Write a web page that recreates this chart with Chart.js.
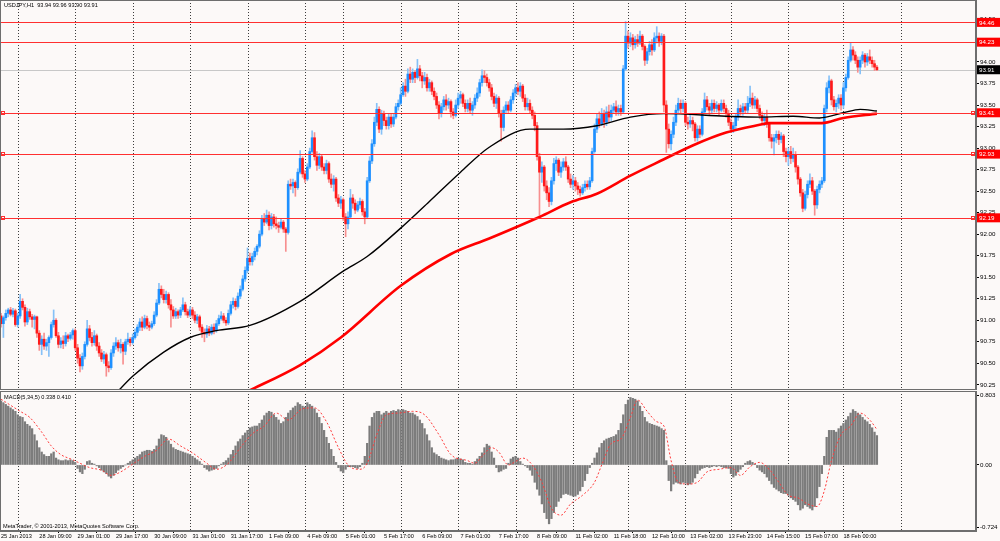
<!DOCTYPE html>
<html>
<head>
<meta charset="utf-8">
<script src="https://cdn.jsdelivr.net/npm/chart.js@4.4.0/dist/chart.umd.min.js"></script>
<style>
html, body { margin: 0; padding: 0; background: #fcf9f8; }
#wrap { position: relative; width: 1000px; height: 541px; overflow: hidden; font-family: "Liberation Sans", Arial, sans-serif; }
#main { position: absolute; left: 0; top: 0; }
#macd { position: absolute; left: 0; top: 390px; }
.note { position: absolute; font-size: 5.6px; line-height: 1; color: #000; white-space: pre; }
</style>
</head>
<body>
<div id="wrap">
  <canvas id="main" width="1000" height="390"></canvas>
  <canvas id="macd" width="1000" height="151"></canvas>
  <div class="note" style="left:4px;top:3px">USDJPY,H1  93.94 93.96 93.90 93.91</div>
  <div class="note" style="left:4px;top:395px">MACD(5,34,5) 0.338 0.410</div>
  <div class="note" style="left:3px;top:524px">MetaTrader, © 2001-2013, MetaQuotes Software Corp.</div>
</div>
<script>
// USDJPY H1 bars, 25 Jan 2013 17:00 .. 18 Feb 2013 14:00 (index = bar number)
const opens = [
  91.05,90.96,91.03,91.08,91.12,91.07,91.11,90.95,91.05,91.22,
  91.15,90.98,91.10,91.04,91.01,91.04,90.85,90.72,90.78,90.70,
  90.74,90.80,90.95,91.00,90.82,90.72,90.76,90.73,90.82,90.79,
  90.83,90.88,90.68,90.56,90.47,90.58,90.72,90.90,90.80,90.74,
  90.82,90.70,90.62,90.55,90.60,90.47,90.45,90.62,90.70,90.74,
  90.68,90.72,90.64,90.75,90.78,90.74,90.80,90.86,90.92,90.98,
  90.92,91.02,90.94,90.92,90.96,91.06,91.20,91.36,91.30,91.24,
  91.30,91.18,91.12,91.05,91.10,91.06,91.12,91.18,91.10,91.06,
  91.12,91.06,91.00,91.04,90.92,90.86,90.84,90.90,90.85,90.92,
  90.88,90.96,91.02,91.05,91.00,90.97,91.08,91.18,91.22,91.16,
  91.28,91.36,91.48,91.58,91.72,91.68,91.74,91.80,91.86,92.00,
  92.18,92.14,92.22,92.10,92.20,92.12,92.10,92.08,92.14,92.06,
  92.02,92.58,92.56,92.60,92.54,92.72,92.88,92.70,92.64,92.78,
  92.96,93.12,92.90,92.80,92.90,92.78,92.74,92.82,92.64,92.58,
  92.64,92.42,92.36,92.40,92.20,92.12,92.20,92.42,92.36,92.28,
  92.34,92.38,92.26,92.20,92.62,92.85,93.05,93.30,93.45,93.22,
  93.40,93.32,93.26,93.36,93.28,93.36,93.48,93.52,93.62,93.72,
  93.66,93.86,93.80,93.88,93.82,93.92,93.84,93.78,93.82,93.70,
  93.76,93.66,93.60,93.50,93.40,93.48,93.56,93.50,93.54,93.42,
  93.38,93.50,93.58,93.62,93.52,93.46,93.52,93.44,93.50,93.58,
  93.64,93.76,93.84,93.82,93.76,93.70,93.60,93.52,93.58,93.40,
  93.24,93.44,93.50,93.44,93.56,93.64,93.70,93.66,93.72,93.58,
  93.48,93.52,93.44,93.38,93.26,92.90,92.72,92.78,92.56,92.48,
  92.38,92.62,92.82,92.86,92.72,92.78,92.84,92.78,92.64,92.58,
  92.62,92.56,92.52,92.48,92.54,92.58,92.55,92.62,92.96,93.22,
  93.34,93.28,93.40,93.30,93.42,93.36,93.44,93.48,93.42,93.46,
  93.42,93.92,94.30,94.22,94.28,94.20,94.26,94.22,94.30,94.18,
  94.02,94.12,94.20,94.14,94.28,94.30,94.24,94.30,93.50,93.22,
  93.05,93.16,93.30,93.44,93.52,93.46,93.52,93.30,93.28,93.32,
  93.28,93.12,93.22,93.16,93.42,93.56,93.48,93.44,93.52,93.46,
  93.50,93.44,93.52,93.46,93.40,93.30,93.22,93.26,93.36,93.46,
  93.42,93.48,93.44,93.52,93.58,93.50,93.56,93.46,93.38,93.32,
  93.36,93.28,93.12,93.08,93.12,93.16,93.10,93.14,92.96,92.90,
  92.96,92.88,92.92,92.78,92.64,92.48,92.30,92.46,92.58,92.62,
  92.50,92.34,92.52,92.58,92.62,93.46,93.70,93.78,93.56,93.48,
  93.52,93.58,93.50,93.70,93.82,94.02,94.14,94.08,94.02,93.94,
  94.02,94.08,94.00,94.06,94.02,93.98,93.94
];
const highs = [
  91.08,91.05,91.12,91.14,91.15,91.14,91.13,91.08,91.30,91.25,
  91.18,91.14,91.13,91.07,91.06,91.05,90.88,90.82,90.85,90.78,
  90.82,90.98,91.12,91.02,90.86,90.80,90.82,90.86,90.84,90.86,
  90.90,90.90,90.72,90.60,90.62,90.75,91.00,90.94,90.86,90.88,
  90.84,90.74,90.66,90.64,90.62,90.52,90.66,90.74,90.80,90.77,
  90.78,90.74,90.78,90.85,90.80,90.84,90.90,90.95,91.02,91.04,
  91.06,91.05,90.98,90.99,91.10,91.24,91.43,91.40,91.36,91.34,
  91.32,91.24,91.16,91.14,91.12,91.15,91.26,91.21,91.13,91.16,
  91.15,91.10,91.07,91.06,90.95,90.90,90.94,90.93,90.95,90.96,
  91.00,91.06,91.10,91.08,91.03,91.12,91.22,91.26,91.25,91.32,
  91.40,91.52,91.62,91.84,91.78,91.78,91.84,91.88,92.04,92.22,
  92.24,92.28,92.26,92.24,92.23,92.20,92.14,92.18,92.16,92.08,
  92.62,92.64,92.64,92.62,92.76,92.97,92.90,92.74,92.82,93.00,
  93.20,93.18,92.96,92.94,92.92,92.82,92.86,92.84,92.70,92.68,
  92.66,92.46,92.44,92.42,92.24,92.26,92.52,92.46,92.40,92.38,
  92.42,92.40,92.30,92.66,92.90,93.10,93.36,93.52,93.48,93.44,
  93.43,93.36,93.40,93.40,93.40,93.52,93.56,93.70,93.76,93.80,
  93.92,93.94,93.92,93.90,94.03,93.96,93.88,93.88,93.86,93.80,
  93.78,93.70,93.64,93.54,93.52,93.60,93.62,93.58,93.56,93.46,
  93.56,93.64,93.66,93.64,93.56,93.56,93.58,93.54,93.62,93.70,
  93.80,93.91,93.90,93.86,93.80,93.74,93.64,93.62,93.60,93.44,
  93.48,93.54,93.54,93.60,93.68,93.74,93.76,93.76,93.74,93.62,
  93.58,93.56,93.48,93.42,93.30,92.94,92.84,92.80,92.62,92.54,
  92.66,92.88,92.90,92.88,92.84,92.88,92.90,92.80,92.70,92.68,
  92.66,92.60,92.56,92.58,92.62,92.62,92.66,93.00,93.28,93.40,
  93.42,93.46,93.44,93.48,93.50,93.50,93.52,93.55,93.50,93.50,
  93.96,94.47,94.36,94.34,94.32,94.30,94.32,94.36,94.32,94.20,
  94.16,94.24,94.26,94.34,94.41,94.34,94.33,94.32,93.55,93.28,
  93.20,93.36,93.50,93.58,93.56,93.56,93.54,93.36,93.38,93.36,
  93.30,93.26,93.26,93.46,93.64,93.60,93.52,93.56,93.56,93.54,
  93.52,93.56,93.56,93.50,93.44,93.34,93.30,93.40,93.56,93.50,
  93.52,93.52,93.60,93.72,93.64,93.60,93.58,93.50,93.42,93.40,
  93.44,93.30,93.16,93.16,93.20,93.20,93.18,93.16,93.00,93.00,
  93.02,93.00,92.96,92.80,92.66,92.52,92.50,92.62,92.70,92.66,
  92.52,92.56,92.62,92.66,93.50,93.76,93.84,93.80,93.60,93.56,
  93.62,93.62,93.76,93.86,94.06,94.22,94.18,94.12,94.06,94.06,
  94.12,94.10,94.10,94.14,94.06,94.02,93.96
];
const lows = [
  90.92,90.80,91.00,91.04,91.05,91.04,90.93,90.92,91.02,91.12,
  90.93,90.95,91.01,90.92,90.90,90.80,90.65,90.60,90.66,90.65,
  90.58,90.78,90.92,90.80,90.68,90.68,90.67,90.70,90.75,90.77,
  90.78,90.65,90.50,90.40,90.43,90.55,90.70,90.76,90.70,90.71,
  90.65,90.58,90.52,90.50,90.35,90.40,90.43,90.58,90.66,90.64,
  90.62,90.49,90.60,90.72,90.70,90.72,90.78,90.82,90.88,90.88,
  90.90,90.90,90.88,90.90,90.94,91.04,91.18,91.26,91.20,91.20,
  91.14,90.92,91.02,91.02,91.02,91.03,91.10,91.06,91.03,91.04,
  91.02,90.97,90.96,90.88,90.80,90.75,90.80,90.82,90.83,90.84,
  90.86,90.94,91.00,90.97,90.94,90.95,91.06,91.14,91.12,91.14,
  91.25,91.34,91.45,91.55,91.64,91.64,91.70,91.76,91.84,91.98,
  92.10,92.12,92.05,92.06,92.08,92.06,92.02,92.06,92.02,91.80,
  92.00,92.52,92.48,92.44,92.52,92.70,92.66,92.60,92.62,92.76,
  92.94,92.86,92.74,92.76,92.74,92.70,92.70,92.60,92.54,92.50,
  92.38,92.32,92.30,92.16,91.97,92.06,92.18,92.30,92.24,92.26,
  92.30,92.22,92.12,92.18,92.60,92.82,93.02,93.26,93.18,93.16,
  93.26,93.22,93.22,93.24,93.25,93.34,93.44,93.50,93.60,93.60,
  93.64,93.76,93.76,93.76,93.80,93.78,93.70,93.74,93.66,93.66,
  93.62,93.56,93.46,93.34,93.36,93.44,93.44,93.46,93.36,93.34,
  93.36,93.46,93.52,93.48,93.42,93.42,93.40,93.38,93.46,93.54,
  93.60,93.72,93.76,93.72,93.66,93.56,93.48,93.46,93.36,93.08,
  93.20,93.40,93.40,93.42,93.52,93.60,93.62,93.60,93.54,93.44,
  93.44,93.40,93.34,93.20,92.86,92.22,92.60,92.50,92.40,92.32,
  92.34,92.58,92.74,92.68,92.66,92.74,92.74,92.60,92.54,92.52,
  92.50,92.46,92.44,92.46,92.50,92.52,92.52,92.60,92.94,93.18,
  93.24,93.26,93.24,93.26,93.30,93.32,93.40,93.38,93.38,93.38,
  93.40,93.90,94.16,94.18,94.14,94.16,94.18,94.20,94.14,93.96,
  93.98,94.08,94.08,94.12,94.22,94.18,94.20,93.42,92.95,93.00,
  92.98,93.12,93.26,93.40,93.40,93.42,93.26,93.22,93.24,93.20,
  93.08,93.08,93.12,93.14,93.40,93.44,93.38,93.40,93.42,93.42,
  93.38,93.42,93.42,93.36,93.26,93.18,93.18,93.22,93.32,93.38,
  93.38,93.40,93.40,93.48,93.46,93.46,93.42,93.34,93.28,93.26,
  93.24,93.08,93.00,92.92,93.06,93.04,93.06,92.90,92.84,92.80,
  92.82,92.84,92.72,92.58,92.44,92.26,92.28,92.42,92.54,92.46,
  92.22,92.30,92.48,92.54,92.60,93.42,93.64,93.50,93.44,93.42,
  93.46,93.44,93.46,93.66,93.80,94.00,94.02,93.98,93.88,93.86,
  93.98,93.94,93.96,93.98,93.94,93.90,93.90
];
const closes = [
  90.96,91.03,91.08,91.12,91.07,91.11,90.95,91.05,91.22,91.15,
  90.98,91.10,91.04,91.01,91.04,90.85,90.72,90.78,90.70,90.74,
  90.80,90.95,91.00,90.82,90.72,90.76,90.73,90.82,90.79,90.83,
  90.88,90.68,90.56,90.47,90.58,90.72,90.90,90.80,90.74,90.82,
  90.70,90.62,90.55,90.60,90.47,90.45,90.62,90.70,90.74,90.68,
  90.72,90.64,90.75,90.78,90.74,90.80,90.86,90.92,90.98,90.92,
  91.02,90.94,90.92,90.96,91.06,91.20,91.36,91.30,91.24,91.30,
  91.18,91.12,91.05,91.10,91.06,91.12,91.18,91.10,91.06,91.12,
  91.06,91.00,91.04,90.92,90.86,90.84,90.90,90.85,90.92,90.88,
  90.96,91.02,91.05,91.00,90.97,91.08,91.18,91.22,91.16,91.28,
  91.36,91.48,91.58,91.72,91.68,91.74,91.80,91.86,92.00,92.18,
  92.14,92.22,92.10,92.20,92.12,92.10,92.08,92.14,92.06,92.02,
  92.58,92.56,92.60,92.54,92.72,92.88,92.70,92.64,92.78,92.96,
  93.12,92.90,92.80,92.90,92.78,92.74,92.82,92.64,92.58,92.64,
  92.42,92.36,92.40,92.20,92.12,92.20,92.42,92.36,92.28,92.34,
  92.38,92.26,92.20,92.62,92.85,93.05,93.30,93.45,93.22,93.40,
  93.32,93.26,93.36,93.28,93.36,93.48,93.52,93.62,93.72,93.66,
  93.86,93.80,93.88,93.82,93.92,93.84,93.78,93.82,93.70,93.76,
  93.66,93.60,93.50,93.40,93.48,93.56,93.50,93.54,93.42,93.38,
  93.50,93.58,93.62,93.52,93.46,93.52,93.44,93.50,93.58,93.64,
  93.76,93.84,93.82,93.76,93.70,93.60,93.52,93.58,93.40,93.24,
  93.44,93.50,93.44,93.56,93.64,93.70,93.66,93.72,93.58,93.48,
  93.52,93.44,93.38,93.26,92.90,92.72,92.78,92.56,92.48,92.38,
  92.62,92.82,92.86,92.72,92.78,92.84,92.78,92.64,92.58,92.62,
  92.56,92.52,92.48,92.54,92.58,92.55,92.62,92.96,93.22,93.34,
  93.28,93.40,93.30,93.42,93.36,93.44,93.48,93.42,93.46,93.42,
  93.92,94.30,94.22,94.28,94.20,94.26,94.22,94.30,94.18,94.02,
  94.12,94.20,94.14,94.28,94.30,94.24,94.30,93.50,93.22,93.05,
  93.16,93.30,93.44,93.52,93.46,93.52,93.30,93.28,93.32,93.28,
  93.12,93.22,93.16,93.42,93.56,93.48,93.44,93.52,93.46,93.50,
  93.44,93.52,93.46,93.40,93.30,93.22,93.26,93.36,93.46,93.42,
  93.48,93.44,93.52,93.58,93.50,93.56,93.46,93.38,93.32,93.36,
  93.28,93.12,93.08,93.12,93.16,93.10,93.14,92.96,92.90,92.96,
  92.88,92.92,92.78,92.64,92.48,92.30,92.46,92.58,92.62,92.50,
  92.34,92.52,92.58,92.62,93.46,93.70,93.78,93.56,93.48,93.52,
  93.58,93.50,93.70,93.82,94.02,94.14,94.08,94.02,93.94,94.02,
  94.08,94.00,94.06,94.02,93.98,93.94,93.91
];

// moving averages at a few bars
const fastMaBars = [47, 55, 68, 79, 90, 104, 125, 143, 153, 167, 179, 192, 204, 221, 235, 249, 263, 277, 303, 317, 331, 342, 352, 359, 366];
const fastMaVals = [90.12, 90.35, 90.63, 90.80, 90.88, 90.94, 91.22, 91.57, 91.74, 92.07, 92.38, 92.72, 93.01, 93.22, 93.22, 93.26, 93.36, 93.40, 93.37, 93.36, 93.37, 93.35, 93.41, 93.45, 93.43];
const slowMaBars = [102, 125, 142, 167, 188, 204, 225, 238, 249, 263, 277, 289, 303, 317, 321, 343, 352, 366];
const slowMaVals = [90.16, 90.48, 90.80, 91.40, 91.77, 91.95, 92.20, 92.37, 92.47, 92.68, 92.87, 93.03, 93.18, 93.27, 93.29, 93.29, 93.35, 93.40];

// MACD(5,34,5) histogram per bar
const macdHist = [
  0.74,0.72,0.70,0.68,0.66,0.64,0.62,0.58,0.56,0.55,
  0.50,0.47,0.45,0.42,0.35,0.28,0.20,0.15,0.12,0.10,
  0.10,0.13,0.15,0.08,0.06,0.05,0.05,0.06,0.05,0.06,
  0.05,0.03,-0.04,-0.08,-0.10,-0.05,0.04,0.05,0.02,0.01,
  -0.01,-0.03,-0.06,-0.08,-0.10,-0.13,-0.15,-0.12,-0.09,-0.06,
  -0.04,-0.02,0.00,0.02,0.04,0.06,0.08,0.10,0.12,0.15,
  0.16,0.17,0.17,0.16,0.18,0.22,0.30,0.35,0.34,0.32,
  0.28,0.24,0.20,0.18,0.17,0.16,0.15,0.14,0.13,0.12,
  0.10,0.08,0.06,0.04,0.01,-0.03,-0.05,-0.07,-0.06,-0.05,
  -0.04,-0.01,0.01,0.03,0.05,0.08,0.12,0.17,0.22,0.27,
  0.30,0.34,0.37,0.40,0.43,0.44,0.45,0.45,0.48,0.52,
  0.57,0.60,0.62,0.61,0.58,0.55,0.52,0.48,0.50,0.55,
  0.60,0.63,0.66,0.68,0.72,0.70,0.68,0.67,0.72,0.70,
  0.68,0.65,0.60,0.55,0.48,0.40,0.32,0.25,0.18,0.10,
  0.03,-0.03,-0.07,-0.09,-0.05,-0.02,-0.02,-0.02,-0.03,-0.04,
  -0.02,0.02,0.10,0.25,0.45,0.55,0.60,0.62,0.62,0.58,
  0.60,0.62,0.60,0.62,0.63,0.62,0.64,0.63,0.64,0.63,
  0.62,0.60,0.60,0.58,0.56,0.52,0.48,0.42,0.35,0.28,
  0.20,0.14,0.12,0.10,0.08,0.07,0.06,0.05,0.06,0.06,
  0.07,0.08,0.07,0.06,0.03,0.02,0.02,0.01,0.04,0.07,
  0.10,0.14,0.20,0.24,0.22,0.15,0.08,-0.03,-0.08,-0.07,
  -0.05,-0.04,0.02,0.07,0.09,0.10,0.08,0.04,0.01,-0.01,
  -0.03,-0.06,-0.12,-0.20,-0.28,-0.35,-0.45,-0.55,-0.62,-0.68,
  -0.62,-0.55,-0.48,-0.42,-0.38,-0.34,-0.33,-0.34,-0.35,-0.36,
  -0.36,-0.34,-0.30,-0.25,-0.18,-0.10,-0.03,0.02,0.08,0.14,
  0.20,0.25,0.28,0.30,0.31,0.32,0.33,0.35,0.40,0.48,
  0.58,0.70,0.75,0.78,0.77,0.76,0.74,0.68,0.62,0.55,
  0.50,0.48,0.47,0.46,0.45,0.44,0.42,0.40,0.05,-0.18,
  -0.30,-0.22,-0.20,-0.21,-0.22,-0.20,-0.21,-0.23,-0.22,-0.20,
  -0.15,-0.10,-0.06,-0.04,-0.03,-0.02,-0.03,-0.02,-0.01,-0.02,
  -0.01,-0.02,-0.03,-0.03,-0.04,-0.10,-0.14,-0.12,-0.08,-0.05,
  -0.02,0.02,0.04,0.05,0.03,0.01,-0.03,-0.06,-0.08,-0.10,
  -0.14,-0.18,-0.22,-0.26,-0.28,-0.30,-0.32,-0.33,-0.33,-0.35,
  -0.38,-0.40,-0.42,-0.46,-0.52,-0.50,-0.46,-0.48,-0.50,-0.52,
  -0.48,-0.38,-0.25,-0.10,0.10,0.32,0.40,0.40,0.40,0.38,
  0.42,0.45,0.48,0.52,0.56,0.60,0.64,0.62,0.60,0.58,
  0.55,0.52,0.50,0.47,0.43,0.38,0.34
];
// signal line, read at a few bars
const signalBars = [0, 8, 12, 17, 21, 25, 30, 33, 37, 42, 46, 50, 55, 60, 65, 70, 75, 80, 86, 90, 95, 100, 105, 110, 115, 120, 126, 131, 136, 141, 145, 150, 153, 157, 161, 166, 172, 177, 183, 188, 195, 198, 201, 205, 208, 212, 215, 218, 222, 226, 230, 234, 238, 243, 248, 251, 255, 259, 263, 266, 270, 274, 277, 280, 283, 287, 291, 295, 300, 305, 309, 313, 317, 321, 325, 329, 333, 337, 341, 344, 347, 351, 355, 359, 363, 366];
const signalVals = [0.76, 0.62, 0.55, 0.38, 0.22, 0.12, 0.06, 0.02, -0.03, -0.06, -0.12, -0.08, 0.01, 0.10, 0.17, 0.30, 0.22, 0.14, 0.02, -0.05, 0.02, 0.20, 0.36, 0.45, 0.60, 0.52, 0.65, 0.66, 0.50, 0.20, 0.00, -0.05, 0.02, 0.35, 0.58, 0.60, 0.62, 0.58, 0.35, 0.12, 0.05, 0.02, 0.10, 0.20, 0.15, 0.00, 0.04, 0.08, 0.00, -0.20, -0.50, -0.58, -0.45, -0.35, -0.20, 0.00, 0.25, 0.30, 0.55, 0.75, 0.62, 0.50, 0.45, 0.05, -0.20, -0.22, -0.20, -0.08, -0.05, -0.03, -0.12, -0.02, 0.03, -0.05, -0.20, -0.35, -0.38, -0.45, -0.48, -0.30, 0.05, 0.35, 0.45, 0.60, 0.52, 0.41];

// axis
const labelBars = [0, 16, 32, 48, 64, 80, 96, 112, 128, 144, 160, 176, 192, 208, 224, 240, 256, 272, 288, 304, 320, 336, 352];
const labelTexts = ['25 Jan 2013', '28 Jan 09:00', '29 Jan 01:00', '29 Jan 17:00', '30 Jan 09:00', '31 Jan 01:00', '31 Jan 17:00', '1 Feb 09:00', '4 Feb 09:00', '5 Feb 01:00', '5 Feb 17:00', '6 Feb 09:00', '7 Feb 01:00', '7 Feb 17:00', '8 Feb 09:00', '11 Feb 02:00', '11 Feb 18:00', '12 Feb 10:00', '13 Feb 02:00', '13 Feb 23:00', '14 Feb 15:00', '15 Feb 07:00', '18 Feb 00:00'];
const dayBars = [7, 31, 55, 79, 103, 127, 143, 167, 191, 215, 239, 262, 286, 305, 329, 352, 376];
const priceTicks = [90.25, 90.50, 90.75, 91.00, 91.25, 91.50, 91.75, 92.00, 92.25, 92.50, 92.75, 93.00, 93.25, 93.50, 93.75, 94.00, 94.25, 94.50];
const macdTicks = [-0.724, 0, 0.803];
const levelPrices = [94.46, 94.23, 93.41, 92.93, 92.19];
const markedLevels = [93.41, 92.93, 92.19];
const lastPrice = 93.91;

const BLUE = '#1e90ff', RED = '#ff1a1a';
const BLUE_WICK = '#86c1f7', RED_WICK = '#f78f8f';
const X_MIN = -0.42, X_MAX = 407.4;

Chart.defaults.font.family = '"Liberation Sans", Arial, sans-serif';
Chart.defaults.color = '#000';

const isUp = i => closes[i] >= opens[i];

const dayGrid = {
  id: 'dayGrid',
  beforeDatasetsDraw(chart) {
    const {ctx, chartArea: a, scales: {x}} = chart;
    ctx.save();
    ctx.strokeStyle = '#3c3c3c';
    ctx.lineWidth = 1;
    ctx.setLineDash([1, 2]);
    dayBars.forEach(b => {
      const px = Math.round(x.getPixelForValue(b)) + 0.5;
      ctx.beginPath();
      ctx.moveTo(px, a.top);
      ctx.lineTo(px, a.bottom);
      ctx.stroke();
    });
    ctx.restore();
  }
};

const frame = {
  id: 'frame',
  afterDraw(chart) {
    const {ctx, chartArea: a} = chart;
    ctx.save();
    ctx.strokeStyle = '#6e6e6e';
    ctx.lineWidth = 1;
    ctx.strokeRect(a.left + 0.5, a.top + 0.5, a.right - a.left - 1, a.bottom - a.top - 1);
    ctx.restore();
  }
};

function priceBox(ctx, y, text, fill) {
  ctx.fillStyle = fill;
  ctx.fillRect(977, y - 4.5, 23, 9);
  ctx.fillStyle = '#fff';
  ctx.fillText(text, 979, y + 0.5);
}

const levels = {
  id: 'levels',
  beforeDatasetsDraw(chart) {
    const {ctx, chartArea: a, scales: {y}} = chart;
    const py = Math.round(y.getPixelForValue(lastPrice)) + 0.5;
    ctx.save();
    ctx.strokeStyle = '#c8c8c8';
    ctx.lineWidth = 1;
    ctx.beginPath();
    ctx.moveTo(a.left, py);
    ctx.lineTo(a.right, py);
    ctx.stroke();
    ctx.restore();
  },
  afterDatasetsDraw(chart) {
    const {ctx, chartArea: a, scales: {y}} = chart;
    ctx.save();
    ctx.strokeStyle = '#ff3030';
    ctx.lineWidth = 1;
    levelPrices.forEach(p => {
      const py = Math.round(y.getPixelForValue(p)) + 0.5;
      ctx.beginPath();
      ctx.moveTo(a.left, py);
      ctx.lineTo(a.right, py);
      ctx.stroke();
      if (markedLevels.includes(p)) {
        ctx.strokeRect(a.left + 1.5, py - 2, 3, 3);
        ctx.strokeRect(a.right - 4.5, py - 2, 3, 3);
      }
    });
    ctx.restore();
  },
  afterDraw(chart) {
    const {ctx, scales: {y}} = chart;
    ctx.save();
    ctx.font = '6.2px "Liberation Sans", Arial, sans-serif';
    ctx.textBaseline = 'middle';
    levelPrices.forEach(p => priceBox(ctx, y.getPixelForValue(p), p.toFixed(2), '#ff0000'));
    priceBox(ctx, y.getPixelForValue(lastPrice), lastPrice.toFixed(2), '#000');
    ctx.restore();
  }
};

function fixWidth(scale) {
  scale.width = 24;
  scale.paddingTop = 0;
  scale.paddingBottom = 0;
}

new Chart(document.getElementById('main'), {
  type: 'bar',
  data: {
    datasets: [
      {
        type: 'line',
        data: fastMaBars.map((b, i) => ({x: b, y: fastMaVals[i]})),
        borderColor: '#000',
        borderWidth: 1.4,
        pointRadius: 0,
        cubicInterpolationMode: 'monotone',
        order: 0
      },
      {
        type: 'line',
        data: slowMaBars.map((b, i) => ({x: b, y: slowMaVals[i]})),
        borderColor: '#ff0000',
        borderWidth: 2.6,
        pointRadius: 0,
        cubicInterpolationMode: 'monotone',
        order: 0
      },
      {
        data: opens.map((o, i) => ({x: i, y: [o, closes[i]]})),
        backgroundColor: c => isUp(c.dataIndex) ? BLUE : RED,
        barThickness: 2,
        minBarLength: 1,
        grouped: false,
        order: 1
      },
      {
        data: lows.map((l, i) => ({x: i, y: [l, highs[i]]})),
        backgroundColor: c => isUp(c.dataIndex) ? BLUE_WICK : RED_WICK,
        barThickness: 1,
        grouped: false,
        order: 2
      }
    ]
  },
  options: {
    responsive: false,
    animation: false,
    devicePixelRatio: 1,
    layout: {padding: 0},
    plugins: {legend: {display: false}, tooltip: {enabled: false}},
    scales: {
      x: {type: 'linear', min: X_MIN, max: X_MAX, offset: false, display: false},
      y: {
        position: 'right',
        min: 90.19,
        max: 94.72,
        afterBuildTicks: s => { s.ticks = priceTicks.map(v => ({value: v})); },
        afterFit: fixWidth,
        ticks: {
          font: {size: 6.2},
          padding: 1,
          callback: v => Number(v).toFixed(2)
        },
        grid: {drawOnChartArea: false, tickLength: 3, color: '#000'},
        border: {color: '#6e6e6e'}
      }
    }
  },
  plugins: [dayGrid, levels, frame]
});

new Chart(document.getElementById('macd'), {
  type: 'bar',
  data: {
    datasets: [
      {
        type: 'line',
        data: signalBars.map((b, i) => ({x: b, y: signalVals[i]})),
        borderColor: '#ff3c3c',
        borderWidth: 1,
        borderDash: [2, 2],
        pointRadius: 0,
        cubicInterpolationMode: 'monotone',
        order: 0
      },
      {
        data: macdHist.map((v, i) => ({x: i, y: v})),
        backgroundColor: '#7c7c7c',
        barThickness: 1.6,
        order: 1
      }
    ]
  },
  options: {
    responsive: false,
    animation: false,
    devicePixelRatio: 1,
    layout: {padding: {top: 1, left: 0, right: 0, bottom: 0}},
    plugins: {legend: {display: false}, tooltip: {enabled: false}},
    scales: {
      x: {
        type: 'linear',
        min: X_MIN,
        max: X_MAX,
        offset: false,
        position: 'bottom',
        afterBuildTicks: s => { s.ticks = labelBars.map(v => ({value: v})); },
        afterFit: s => { s.height = 10; s.paddingLeft = 0; s.paddingRight = 0; },
        ticks: {
          font: {size: 5.6},
          align: 'start',
          autoSkip: false,
          maxRotation: 0,
          padding: 0,
          callback: v => labelTexts[labelBars.indexOf(v)]
        },
        grid: {drawOnChartArea: false, tickLength: 2, color: '#000'},
        border: {color: '#6e6e6e'}
      },
      y: {
        position: 'right',
        min: -0.763,
        max: 0.855,
        afterBuildTicks: s => { s.ticks = macdTicks.map(v => ({value: v})); },
        afterFit: fixWidth,
        ticks: {
          font: {size: 6.2},
          padding: 1,
          callback: v => v === 0 ? '0.00' : Number(v).toFixed(3)
        },
        grid: {drawOnChartArea: false, tickLength: 3, color: '#000'},
        border: {color: '#6e6e6e'}
      }
    }
  },
  plugins: [dayGrid, frame]
});
</script>
</body>
</html>
